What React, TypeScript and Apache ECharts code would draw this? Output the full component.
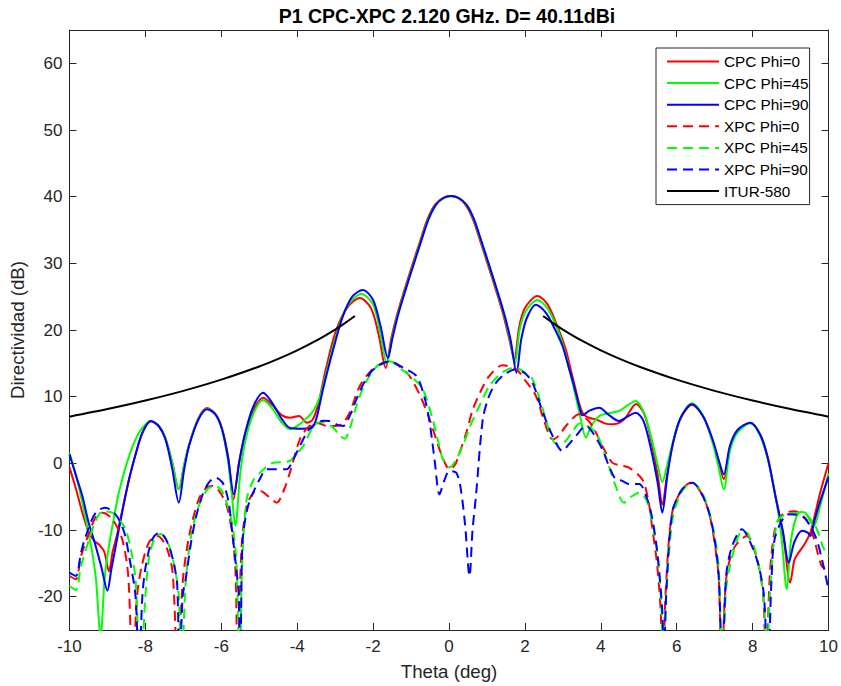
import React, { useEffect, useRef } from "react";
import * as echarts from "echarts";

type Pt = [number, number | null];

const FONT = '"Liberation Sans", Arial, Helvetica, sans-serif';
const AXIS_COLOR = "#262626";

const titleText = "P1 CPC-XPC 2.120 GHz. D= 40.11dBi";
const yTicks = [-20, -10, 0, 10, 20, 30, 40, 50, 60];
const seriesNames = [
  "CPC Phi=0",
  "CPC Phi=45",
  "CPC Phi=90",
  "XPC Phi=0",
  "XPC Phi=45",
  "XPC Phi=90",
  "ITUR-580",
];

// Co-polar cuts (theta deg, directivity dB)
const cpcPhi0: Pt[] = [
  [-10, -0.6], [-9.83, -3.8], [-9.66, -7.4], [-9.5, -10.2], [-9.35, -11.6], [-9.2, -12.3],
  [-9.08, -13.3], [-8.96, -16.2], [-8.86, -13.2], [-8.75, -10.8], [-8.6, -6.8], [-8.43, -2.4],
  [-8.25, 1.5], [-8.08, 4.5], [-7.86, 6.3], [-7.65, 5.6], [-7.47, 3.7], [-7.3, 0.3],
  [-7.12, -3.9], [-6.98, -0.3], [-6.85, 2.8], [-6.6, 6.8], [-6.38, 8.3], [-6.15, 7.4],
  [-5.98, 5.2], [-5.82, 1.0], [-5.68, -5.4], [-5.53, 0.2], [-5.37, 4.4], [-5.15, 8.0],
  [-4.9, 9.85], [-4.65, 8.7], [-4.4, 7.2], [-4.19, 6.85], [-3.95, 7.1], [-3.75, 6.1],
  [-3.6, 6.5], [-3.45, 8.8], [-3.25, 14], [-3.0, 19.5], [-2.7, 23.2], [-2.35, 24.8],
  [-2.05, 23.2], [-1.85, 19.2], [-1.67, 14.3], [-1.52, 18.8], [-1.37, 22.3], [-1.17, 26.1],
  [-0.97, 29.7], [-0.77, 33.2], [-0.57, 36.6], [-0.37, 38.8], [-0.17, 39.8], [0.03, 40.1],
  [0.23, 39.8], [0.43, 38.8], [0.63, 36.6], [0.83, 33.2], [1.03, 29.7], [1.23, 26.1],
  [1.43, 22.3], [1.58, 18.8], [1.72, 15.6], [1.85, 20.5],
  [2.0, 23.3], [2.33, 25.1], [2.6, 23.8], [2.85, 20.6], [3.07, 17.2], [3.21, 14.0],
  [3.34, 11.0], [3.45, 8.6], [3.55, 7.3], [3.7, 6.8], [3.87, 6.6], [4.1, 6.0],
  [4.3, 5.85], [4.5, 6.1], [4.66, 6.9], [4.93, 8.9], [5.15, 7.3], [5.35, 2.8],
  [5.5, -1.8], [5.62, -6.2], [5.75, -1.5], [5.9, 3.0], [6.1, 6.7], [6.4, 8.8],
  [6.7, 7.0], [6.95, 3.3], [7.1, 0.3], [7.24, -2.4], [7.4, 2.3], [7.6, 4.8],
  [7.94, 6.1], [8.2, 4.3], [8.4, 0.8], [8.6, -4.9], [8.8, -10.5], [8.99, -17.9],
  [9.1, -14.5], [9.21, -13.4], [9.35, -12.3], [9.52, -10.4], [9.65, -7.5], [9.78, -4.4],
  [10, 0.0],
];

const cpcPhi45: Pt[] = [
  [-10, 1.6], [-9.83, -1.8], [-9.66, -5.9], [-9.5, -10.4], [-9.4, -13.4], [-9.3, -17.5],
  [-9.18, -26], [-9.07, -17], [-8.96, -12.4], [-8.83, -8.2], [-8.7, -4.4], [-8.48, 0.2],
  [-8.26, 3.6], [-8.08, 5.3], [-7.86, 6.35], [-7.65, 5.6], [-7.47, 3.7], [-7.3, 0.3],
  [-7.12, -3.9], [-6.98, -0.3], [-6.85, 2.7], [-6.6, 6.7], [-6.37, 8.2], [-6.15, 7.3],
  [-5.98, 5.0], [-5.84, 1.0], [-5.74, -3.5], [-5.63, -9.4], [-5.5, -1.5], [-5.37, 3.3],
  [-5.15, 7.5], [-4.9, 9.5], [-4.65, 8.2], [-4.42, 6.2], [-4.19, 5.1], [-3.95, 5.8],
  [-3.75, 6.8], [-3.58, 7.8], [-3.4, 10.0], [-3.23, 13.6], [-3.0, 18.6], [-2.7, 23.4],
  [-2.31, 25.4], [-2.0, 23.8], [-1.82, 19.8], [-1.64, 15.0], [-1.5, 18.8], [-1.35, 22.3],
  [-1.15, 26.1], [-0.95, 29.7], [-0.75, 33.2], [-0.55, 36.6], [-0.35, 38.8], [-0.15, 39.8],
  [0.05, 40.1], [0.25, 39.8], [0.45, 38.8], [0.65, 36.6], [0.85, 33.2], [1.05, 29.7],
  [1.25, 26.1], [1.45, 22.3], [1.6, 18.8], [1.74, 15.0],
  [1.86, 20.0], [2.02, 22.8], [2.33, 24.5], [2.6, 23.2], [2.85, 20.2], [3.05, 16.8],
  [3.18, 13.8], [3.32, 10.5], [3.45, 7.2], [3.61, 3.85], [3.75, 5.6], [3.96, 7.1],
  [4.2, 7.5], [4.48, 7.85], [4.7, 8.7], [4.92, 9.35], [5.15, 7.4], [5.35, 3.4],
  [5.5, -0.3], [5.62, -2.8], [5.75, -0.2], [5.9, 3.2], [6.1, 6.8], [6.4, 9.0],
  [6.7, 7.1], [6.95, 3.0], [7.1, -0.5], [7.24, -3.9], [7.4, 1.8], [7.6, 4.6],
  [7.94, 6.0], [8.2, 4.1], [8.4, 0.6], [8.6, -4.9], [8.75, -10.5], [8.9, -18.9],
  [9.0, -12], [9.13, -8.4], [9.26, -7.3], [9.39, -7.4], [9.5, -8.5], [9.61, -9.4],
  [9.78, -6.4], [10, -1.5],
];

const cpcPhi90: Pt[] = [
  [-10, 1.35], [-9.83, -1.8], [-9.66, -4.9], [-9.5, -8.8], [-9.31, -12.4], [-9.15, -15.8],
  [-9.0, -19.1], [-8.9, -16.0], [-8.78, -12.4], [-8.6, -7.0], [-8.43, -2.4], [-8.25, 1.5],
  [-8.08, 4.6], [-7.86, 6.35], [-7.65, 5.6], [-7.47, 3.6], [-7.3, -0.6], [-7.12, -5.9],
  [-6.98, -1.0], [-6.85, 2.6], [-6.6, 6.6], [-6.37, 8.1], [-6.15, 7.3], [-5.98, 5.1],
  [-5.82, 0.8], [-5.67, -4.65], [-5.52, 0.4], [-5.37, 4.6], [-5.15, 8.6], [-4.9, 10.6],
  [-4.65, 9.0], [-4.4, 6.6], [-4.19, 5.3], [-3.9, 5.2], [-3.62, 5.3], [-3.5, 6.6],
  [-3.32, 11.1], [-3.05, 17.1], [-2.8, 22.0], [-2.55, 25.0], [-2.27, 26.0], [-2.0, 24.5],
  [-1.8, 20.5], [-1.61, 15.8], [-1.49, 18.8], [-1.34, 22.3], [-1.14, 26.1], [-0.94, 29.7],
  [-0.74, 33.2], [-0.54, 36.6], [-0.34, 38.8], [-0.14, 39.8], [0.06, 40.1], [0.26, 39.8],
  [0.46, 38.8], [0.66, 36.6], [0.86, 33.2], [1.06, 29.7], [1.26, 26.1], [1.46, 22.3],
  [1.62, 18.6], [1.78, 13.6], [1.9, 18.5], [2.05, 21.8],
  [2.29, 23.8], [2.55, 22.6], [2.8, 20.0], [2.99, 17.6], [3.15, 14.5], [3.3, 11.5],
  [3.43, 8.6], [3.52, 7.2], [3.7, 7.9], [3.96, 8.35], [4.2, 7.3], [4.48, 6.35],
  [4.7, 7.0], [4.92, 7.6], [5.12, 6.4], [5.32, 2.2], [5.5, -3.0], [5.62, -7.4],
  [5.75, -2.0], [5.9, 3.0], [6.1, 6.8], [6.4, 8.85], [6.7, 7.0], [6.95, 3.5],
  [7.1, 0.6], [7.24, -1.65], [7.4, 2.6], [7.6, 5.0], [7.94, 6.1], [8.2, 4.3],
  [8.4, 0.8], [8.6, -4.9], [8.8, -10.3], [8.95, -14.9], [9.1, -11.8], [9.3, -10.1],
  [9.45, -10.4], [9.52, -10.9], [9.62, -8.8], [9.74, -6.4], [10, -2.0],
];

// Cross-polar cuts
const xpcPhi0: Pt[] = [
  [-10, -16.9], [-9.83, -17.4], [-9.7, -14.0], [-9.48, -10.4], [-9.3, -8.0], [-9.13, -7.4],
  [-8.87, -8.4], [-8.61, -11.4], [-8.45, -17.0], [-8.34, -32], [-8.22, -20], [-8.1, -15.5],
  [-7.9, -11.8], [-7.68, -10.9], [-7.45, -12.5], [-7.28, -16.5], [-7.15, -32], [-7.02, -18],
  [-6.85, -11], [-6.6, -5.5], [-6.4, -3.7], [-6.24, -3.4], [-6.05, -4.2], [-5.85, -6.5],
  [-5.7, -11], [-5.62, -17], [-5.57, -32], [-5.47, -13], [-5.33, -6.4], [-5.15, -4.4],
  [-4.98, -4.15], [-4.75, -5.0], [-4.54, -5.9], [-4.35, -4.0], [-4.19, -1.35], [-3.93, 3.6],
  [-3.7, 5.5], [-3.49, 6.1], [-3.2, 5.6], [-2.96, 5.6], [-2.8, 6.0], [-2.62, 7.6],
  [-2.35, 11.6], [-2.1, 13.6], [-1.91, 14.6], [-1.56, 15.3], [-1.3, 14.5], [-1.04, 13.1],
  [-0.75, 10.0], [-0.51, 6.6], [-0.25, 2.1], [-0.07, -0.4], [0.01, -0.9], [0.15, -0.3],
  [0.28, 1.6], [0.45, 4.5], [0.63, 8.1], [0.85, 11.0], [1.06, 13.1], [1.41, 14.7],
  [1.77, 14.1], [2.0, 12.5], [2.29, 10.1], [2.5, 6.5], [2.73, 3.6], [2.9, 4.2],
  [3.08, 5.6], [3.43, 7.35], [3.6, 6.8], [3.78, 5.6], [4.05, 2.5], [4.3, 0.1],
  [4.5, -0.3], [4.74, -0.65], [5.09, -2.4], [5.25, -5.5], [5.36, -9.9], [5.48, -15],
  [5.58, -22.4], [5.62, -32], [5.72, -18], [5.88, -7.4], [6.14, -3.9], [6.38, -2.9],
  [6.65, -4.5], [6.85, -7.4], [7.0, -12], [7.11, -17.4], [7.18, -32], [7.3, -17.5],
  [7.5, -12.8], [7.85, -10.9], [8.0, -12.3], [8.16, -15.4], [8.28, -20], [8.36, -32],
  [8.45, -17], [8.6, -9.5], [8.8, -7.6], [9.1, -7.2], [9.4, -8.3], [9.6, -11.0],
  [9.82, -15.4], [10, -16],
];

const xpcPhi45: Pt[] = [
  [-10, -18.4], [-9.83, -19.0], [-9.7, -15.5], [-9.48, -11.4], [-9.3, -8.5], [-9.13, -7.2],
  [-8.87, -7.4], [-8.7, -8.3], [-8.52, -9.9], [-8.38, -13], [-8.26, -17.4], [-8.13, -32],
  [-8.0, -20], [-7.9, -14], [-7.75, -11.2], [-7.6, -10.6], [-7.4, -12], [-7.25, -15],
  [-7.12, -19.9], [-7.05, -32], [-6.94, -18], [-6.8, -11], [-6.6, -6.5], [-6.35, -3.8],
  [-6.15, -3.4], [-5.95, -4.5], [-5.72, -8.9], [-5.6, -15], [-5.52, -32], [-5.45, -15],
  [-5.33, -5.4], [-5.15, -2.5], [-4.98, -1.4], [-4.8, -0.5], [-4.63, 0.1], [-4.4, 0.2],
  [-4.2, 0.35], [-4.0, 1.5], [-3.84, 2.6], [-3.6, 5.3], [-3.4, 6.2], [-3.2, 5.9],
  [-3.05, 5.35], [-2.88, 4.2], [-2.75, 3.7], [-2.6, 5.5], [-2.44, 8.6], [-2.25, 11.5],
  [-2.09, 13.1], [-1.85, 14.8], [-1.56, 15.3], [-1.3, 14.3], [-0.95, 12.8], [-0.69, 11.1],
  [-0.45, 7.0], [-0.25, 2.5], [-0.16, 0.6], [0.01, -0.6], [0.15, 0.2], [0.36, 2.6],
  [0.55, 5.5], [0.8, 8.6], [1.05, 11.5], [1.33, 13.3], [1.55, 14.1], [1.77, 14.3],
  [2.0, 13.6], [2.2, 12.6], [2.45, 8.5], [2.7, 3.9], [2.86, 2.85], [3.08, 3.4],
  [3.25, 4.8], [3.45, 6.0], [3.65, 5.6], [3.87, 4.6], [4.1, 1.5], [4.39, -3.4],
  [4.61, -5.9], [4.8, -5.0], [5.01, -4.4], [5.2, -5.5], [5.36, -9.0], [5.5, -14],
  [5.6, -22], [5.65, -32], [5.72, -20], [5.9, -8], [6.14, -4.2], [6.41, -2.9],
  [6.65, -4.2], [6.85, -7.2], [7.0, -11], [7.11, -16], [7.2, -32], [7.3, -19],
  [7.46, -14], [7.72, -10.2], [7.85, -10.4], [8.05, -12.8], [8.2, -16.5], [8.3, -21],
  [8.38, -32], [8.45, -20], [8.64, -8.9], [8.9, -7.6], [9.3, -7.4], [9.65, -9.4],
  [9.85, -12.5], [10, -14],
];

const xpcPhi90: Pt[] = [
  [-10, -16.4], [-9.83, -16.9], [-9.7, -13.5], [-9.57, -10.9], [-9.31, -7.4], [-9.05, -6.65],
  [-8.85, -7.3], [-8.7, -8.4], [-8.55, -10.5], [-8.43, -13.9], [-8.26, -19.9], [-8.17, -32],
  [-8.08, -20], [-7.99, -15.4], [-7.82, -11.4], [-7.64, -10.4], [-7.5, -11], [-7.38, -12.4],
  [-7.25, -15], [-7.16, -18.4], [-7.1, -32], [-7.02, -20], [-6.94, -17.4], [-6.8, -12],
  [-6.68, -8.4], [-6.5, -4.8], [-6.33, -2.9], [-6.15, -2.15], [-5.98, -2.8], [-5.89, -3.9],
  [-5.8, -6.0], [-5.72, -9.9], [-5.62, -15], [-5.54, -19.9], [-5.5, -32], [-5.46, -15],
  [-5.42, -10.4], [-5.3, -6.5], [-5.16, -4.4], [-5.0, -2.5], [-4.8, -0.9], [-4.55, -0.9],
  [-4.28, -0.9], [-4.1, 0.6], [-3.93, 2.6], [-3.7, 5.0], [-3.49, 6.1], [-3.3, 6.4],
  [-3.14, 6.35], [-2.95, 5.8], [-2.79, 5.6], [-2.6, 7.3], [-2.44, 9.6], [-2.2, 12.5],
  [-1.95, 14.3], [-1.56, 15.3], [-1.2, 14.3], [-0.86, 13.1], [-0.65, 10.0], [-0.51, 6.1],
  [-0.38, 0.5], [-0.25, -4.65], [-0.12, -2.5], [0.01, -1.15], [0.19, -1.4], [0.3, -3.5],
  [0.42, -9.0], [0.54, -16.9], [0.62, -10.0], [0.71, -4.9], [0.89, 6.6], [1.05, 10.0],
  [1.24, 12.1], [1.5, 13.5], [1.77, 14.1], [2.0, 13.5], [2.2, 12.1], [2.45, 8.0],
  [2.73, 4.1], [2.99, 1.85], [3.15, 2.8], [3.34, 4.1], [3.61, 5.6], [3.8, 4.5],
  [4.04, 2.1], [4.2, -0.2], [4.39, -2.4], [4.55, -2.6], [4.74, -3.1], [5.01, -3.1],
  [5.2, -5.0], [5.36, -8.4], [5.5, -14], [5.62, -22.4], [5.66, -32], [5.72, -20],
  [5.88, -7.4], [6.14, -3.9], [6.41, -2.9], [6.65, -4.5], [6.85, -7.4], [7.0, -11.5],
  [7.11, -17.4], [7.2, -32], [7.3, -17], [7.46, -12.4], [7.72, -9.9], [7.95, -12],
  [8.16, -15.4], [8.3, -20], [8.4, -32], [8.5, -17], [8.6, -10.9], [8.95, -7.65],
  [9.3, -7.9], [9.65, -10.9], [9.85, -15], [10, -19],
];

// ITU-R S.580 side-lobe mask, both sides (null separates the two branches)
const itur580: Pt[] = [
  [-10, 7.0], [-9, 8.14], [-8, 9.42], [-7, 10.87], [-6, 12.55], [-5, 14.53],
  [-4.5, 15.67], [-4, 16.95], [-3.5, 18.4], [-3, 20.07], [-2.75, 21.0], [-2.48, 22.1],
  [0, null],
  [2.48, 22.1], [2.75, 21.0], [3, 20.07], [3.5, 18.4], [4, 16.95], [4.5, 15.67],
  [5, 14.53], [6, 12.55], [7, 10.87], [8, 9.42], [9, 8.14], [10, 7.0],
];

const curves: { data: Pt[]; color: string; dashed: boolean }[] = [
  { data: cpcPhi0, color: "#ff0000", dashed: false },
  { data: cpcPhi45, color: "#00ff00", dashed: false },
  { data: cpcPhi90, color: "#0000ff", dashed: false },
  { data: xpcPhi0, color: "#ff0000", dashed: true },
  { data: xpcPhi45, color: "#00ff00", dashed: true },
  { data: xpcPhi90, color: "#0000ff", dashed: true },
  { data: itur580, color: "#000000", dashed: false },
];

export default function App() {
  const ref = useRef<HTMLDivElement>(null);

  useEffect(() => {
    if (!ref.current) return;
    const chart = echarts.init(ref.current, null, { renderer: "svg" });

    const tickStyle = { inside: true, length: 7, lineStyle: { color: AXIS_COLOR, width: 1 } };
    const lineStyle = { onZero: false, lineStyle: { color: AXIS_COLOR, width: 1 } };

    chart.setOption({
      animation: false,
      backgroundColor: "#ffffff",
      textStyle: { fontFamily: FONT },
      graphic: [
        {
          type: "text",
          x: 447,
          y: 16,
          style: {
            text: titleText,
            font: `bold 19.5px ${FONT}`,
            fill: "#000000",
            align: "center",
            verticalAlign: "middle",
          },
        },
      ],
      grid: { left: 69, right: 11, top: 30, bottom: 56, containLabel: false },
      legend: {
        data: seriesNames,
        orient: "vertical",
        left: 656,
        top: 48,
        itemWidth: 52,
        itemHeight: 14,
        itemGap: 6.6,
        padding: [6, 1, 6, 10],
        borderColor: AXIS_COLOR,
        borderWidth: 1,
        backgroundColor: "#ffffff",
        itemStyle: { opacity: 0 },
        textStyle: { fontSize: 15.3, color: "#000000", fontFamily: FONT },
      },
      xAxis: [
        {
          type: "value",
          min: -10,
          max: 10,
          interval: 2,
          position: "bottom",
          axisLine: lineStyle,
          axisTick: tickStyle,
          splitLine: { show: false },
          axisLabel: { fontSize: 17, color: AXIS_COLOR, margin: 8, fontFamily: FONT },
          name: "Theta (deg)",
          nameLocation: "middle",
          nameGap: 32,
          nameTextStyle: { fontSize: 18.7, color: AXIS_COLOR, fontFamily: FONT },
        },
        {
          type: "value",
          min: -10,
          max: 10,
          interval: 2,
          position: "top",
          axisLine: lineStyle,
          axisTick: tickStyle,
          splitLine: { show: false },
          axisLabel: { show: false },
        },
      ],
      yAxis: [
        {
          type: "value",
          min: -25,
          max: 65,
          position: "left",
          axisLine: lineStyle,
          axisTick: { ...tickStyle, customValues: yTicks },
          splitLine: { show: false },
          axisLabel: {
            customValues: yTicks,
            fontSize: 17,
            color: AXIS_COLOR,
            margin: 7,
            fontFamily: FONT,
          },
          name: "Directividad (dB)",
          nameLocation: "middle",
          nameGap: 36,
          nameTextStyle: { fontSize: 18.7, color: AXIS_COLOR, fontFamily: FONT },
        },
        {
          type: "value",
          min: -25,
          max: 65,
          position: "right",
          axisLine: lineStyle,
          axisTick: { ...tickStyle, customValues: yTicks },
          splitLine: { show: false },
          axisLabel: { show: false, customValues: yTicks },
        },
      ],
      series: curves.map((c, i) => ({
        name: seriesNames[i],
        type: "line",
        xAxisIndex: 0,
        yAxisIndex: 0,
        data: c.data,
        showSymbol: false,
        symbol: "none",
        smooth: 0.3,
        connectNulls: false,
        clip: true,
        lineStyle: {
          color: c.color,
          width: 2,
          type: c.dashed ? [10, 6] : "solid",
        },
        itemStyle: { color: c.color },
        emphasis: { disabled: true },
      })),
    });

    return () => chart.dispose();
  }, []);

  return (
    <div
      ref={ref}
      style={{ position: "absolute", left: 0, top: 0, width: 841, height: 686 }}
    />
  );
}
